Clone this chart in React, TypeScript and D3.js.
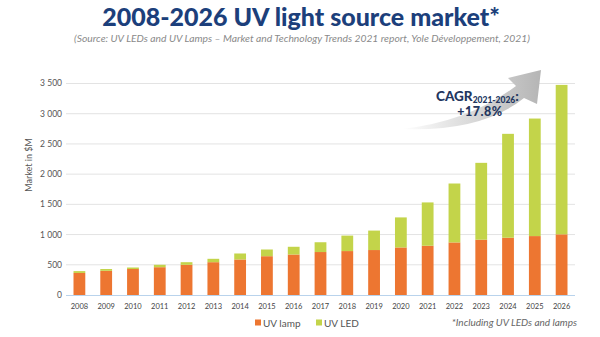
import React from "react";
import * as d3 from "d3";

const years = ["2008","2009","2010","2011","2012","2013","2014","2015","2016","2017","2018","2019","2020","2021","2022","2023","2024","2025","2026"];
const uvLamp = [365, 400, 430, 460, 500, 543, 588, 642, 670, 711, 727, 744, 787, 815, 870, 915, 948, 975, 1004];
const uvLed = [30, 30, 25, 40, 43, 56, 99, 111, 128, 162, 256, 322, 497, 717, 975, 1272, 1719, 1945, 2473];
const yTicks = [0, 500, 1000, 1500, 2000, 2500, 3000, 3500];
const seriesNames = ["UV lamp", "UV LED"];
const seriesColors = ["#ED7631", "#C3D44A"];

const W = 600, H = 337;
const FONT = "Lato, 'Open Sans', sans-serif";

function fmt(v: number) {
  return v >= 1000 ? `${Math.floor(v / 1000)} ${String(v % 1000).padStart(3, "0")}` : String(v);
}

export default function App() {
  const x = d3.scaleBand<string>().domain(years).range([66, 575]).paddingInner(0.56).paddingOuter(0.28);
  const y = d3.scaleLinear().domain([0, 3500]).range([295, 83.5]);
  const data = years.map((yr, i) => ({ yr, lamp: uvLamp[i], led: uvLed[i] }));
  const stack = d3.stack<any>().keys(["lamp", "led"])(data);

  return (
    <svg width={W} height={H} style={{ position: "absolute", left: 0, top: 0, background: "#fff" }} fontFamily={FONT}>
      <defs>
        <linearGradient id="arrowGrad" x1="0" y1="0" x2="1" y2="0">
          <stop offset="0" stopColor="#ffffff" />
          <stop offset="0.35" stopColor="#e4e4e4" />
          <stop offset="1" stopColor="#b5b5b5" />
        </linearGradient>
      </defs>
      <text x={301} y={26} textAnchor="middle" fontSize={25} fontWeight={900} fill="#1C3F7B">2008-2026 UV light source market*</text>
      <text x={302} y={42} textAnchor="middle" fontSize={10.3} fontStyle="italic" fill="#8a8a8a">(Source: UV LEDs and UV Lamps – Market and Technology Trends 2021 report, Yole Développement, 2021)</text>

      {yTicks.map(t => (
        <g key={t}>
          {t > 0 && <line x1={66} x2={575} y1={y(t)} y2={y(t)} stroke="#e3e3e3" strokeWidth={1} />}
          <text x={62} y={y(t)} dy="0.35em" textAnchor="end" fontSize={8.5} fill="#555">{fmt(t)}</text>
        </g>
      ))}
      <text transform={`translate(32,165) rotate(-90)`} textAnchor="middle" fontSize={9} fill="#555">Market in $M</text>

      {stack.map((s, si) => (
        <g key={si} fill={seriesColors[si]}>
          {s.map((d: any, i: number) => (
            <rect key={i} x={x(years[i])} width={x.bandwidth()} y={y(d[1])} height={y(d[0]) - y(d[1])} />
          ))}
        </g>
      ))}
      <line x1={66} x2={575} y1={295.5} y2={295.5} stroke="#B9D3EC" strokeWidth={1} />

      {years.map(yr => (
        <text key={yr} x={(x(yr) as number) + x.bandwidth() / 2} y={309} textAnchor="middle" fontSize={7.5} fill="#444">{yr}</text>
      ))}

      <path d="M402,129 Q482,132 524,98 L537,104 L541,70 L508,78 L516,86 Q468,122 402,129 Z" fill="url(#arrowGrad)" />
      <text x={436} y={101} fontSize={13.5} fontWeight={900} fill="#23365F">CAGR<tspan fontSize={8.5} dy={2}>2021-2026</tspan><tspan dy={-2}>:</tspan></text>
      <text x={480} y={116} textAnchor="middle" fontSize={12.5} fontWeight={900} letterSpacing={0.5} fill="#23365F">+17.8%</text>

      {seriesNames.map((n, i) => (
        <g key={n} transform={`translate(${[255, 316][i]},323)`}>
          <rect x={0} y={-3.5} width={6} height={6} fill={seriesColors[i]} />
          <text x={8} y={0} dy="0.35em" fontSize={10} fill="#555">{n}</text>
        </g>
      ))}
      <text x={577} y={326} textAnchor="end" fontSize={10} fontStyle="italic" fill="#666">*Including UV LEDs and lamps</text>
    </svg>
  );
}
